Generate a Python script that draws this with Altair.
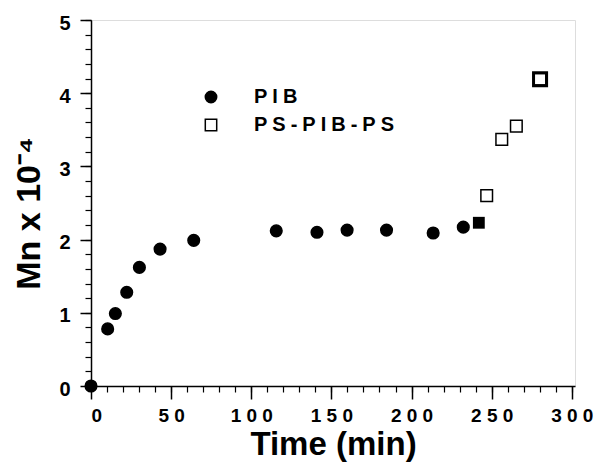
import altair as alt
import pandas as pd

# PIB (filled circles)
pib_time = [0, 10.4, 15.2, 22.3, 30.2, 43.1, 64.1, 115.6, 141.0, 159.8, 184.4, 213.5, 232.3]
pib_mn = [0.0, 0.78, 0.99, 1.28, 1.62, 1.87, 1.99, 2.12, 2.10, 2.13, 2.13, 2.09, 2.17]

# PS-PIB-PS (open squares)
ps_time = [246.9, 256.3, 265.4, 280.2]
ps_mn = [2.60, 3.37, 3.55, 4.19]

# filled square (start of PS addition)
start_time = [242.0]
start_mn = [2.23]

# last (bold) square
last_time = [280.2]
last_mn = [4.19]

series_names = ["PIB", "PS-PIB-PS"]
x_major = [0, 50, 100, 150, 200, 250, 300]
x_minor = list(range(0, 301, 10))
y_major = [0, 1, 2, 3, 4, 5]
y_minor = [i / 5 for i in range(0, 26)]

FONT = "Liberation Sans"

df = pd.DataFrame({
    "t": pib_time + ps_time,
    "mn": pib_mn + ps_mn,
    "series": ["PIB"] * len(pib_time) + ["PS-PIB-PS"] * len(ps_time),
})
df_start = pd.DataFrame({"t": start_time, "mn": start_mn})
df_last = pd.DataFrame({"t": last_time, "mn": last_mn})

xscale = alt.Scale(domain=[0, 302], nice=False, zero=False)
yscale = alt.Scale(domain=[0, 5], nice=False)

legend = alt.Legend(
    title=None, orient="none", legendX=110, legendY=67,
    labelFont=FONT, labelFontSize=20, labelFontWeight="bold", labelColor="black",
    labelExpr="join(split(datum.label, ''), '\u2005')",
    labelOffset=33, rowPadding=8, symbolSize=130, symbolStrokeColor="black",
    symbolStrokeWidth=1.5,
)

main_x_axis = alt.Axis(
    values=x_major, tickSize=13, tickWidth=1.5, tickColor="black",
    domainColor="black", domainWidth=1.5, grid=False,
    labelFont=FONT, labelFontSize=19, labelFontWeight="bold", labelColor="black",
    labelPadding=7, labelExpr="join(split(datum.label, ''), ' ')",
    title="Time (min)", titleFont=FONT, titleFontSize=33, titleFontWeight="bold",
    titleColor="black", titlePadding=3,
)
main_y_axis = alt.Axis(
    values=y_major, tickSize=11, tickWidth=1.5, tickColor="black",
    domainColor="black", domainWidth=1.5, grid=False,
    labelFont=FONT, labelFontSize=20, labelFontWeight="bold", labelColor="black",
    labelPadding=10, labelOffset=3,
    title="Mn  x  10\u207b\u2074", titleFont=FONT, titleFontSize=34, titleFontWeight="bold",
    titleColor="black", titlePadding=12, titleY=193,
)

stroke_scale = alt.Scale(domain=series_names, range=["black", "black"])

points = alt.Chart(df).mark_point(opacity=1, strokeWidth=1.5, size=135).encode(
    x=alt.X("t:Q", scale=xscale, axis=main_x_axis),
    y=alt.Y("mn:Q", scale=yscale, axis=main_y_axis),
    shape=alt.Shape("series:N", scale=alt.Scale(domain=series_names, range=["circle", "square"]), legend=legend),
    fill=alt.Fill("series:N", scale=alt.Scale(domain=series_names, range=["black", "white"]), legend=legend),
    stroke=alt.Stroke("series:N", scale=stroke_scale, legend=legend),
)

minor_x_axis = alt.Axis(values=x_minor, orient="bottom", tickSize=6, tickWidth=1.2, tickColor="black",
                        labels=False, domain=False, grid=False, title=None)
minor_y_axis = alt.Axis(values=y_minor, orient="left", tickSize=6, tickWidth=1.2, tickColor="black",
                        labels=False, domain=False, grid=False, title=None)

start = alt.Chart(df_start).mark_square(size=140, color="black", opacity=1).encode(
    x=alt.X("t:Q", scale=xscale, axis=minor_x_axis),
    y=alt.Y("mn:Q", scale=yscale, axis=minor_y_axis),
)

last = alt.Chart(df_last).mark_square(size=170, filled=False, color="black", strokeWidth=3, opacity=1).encode(
    x=alt.X("t:Q", scale=xscale, axis=None),
    y=alt.Y("mn:Q", scale=yscale, axis=None),
)

chart = alt.layer(points, start, last).resolve_axis(x="independent", y="independent").properties(
    width=484, height=366,
    autosize=alt.AutoSizeParams(type="none"),
    padding={"left": 83, "top": 12, "right": 21, "bottom": 78},
).configure_view(stroke="black", strokeWidth=1.5).configure(background="white")

chart.save("out.html", embed_options={"renderer": "svg", "actions": False})
